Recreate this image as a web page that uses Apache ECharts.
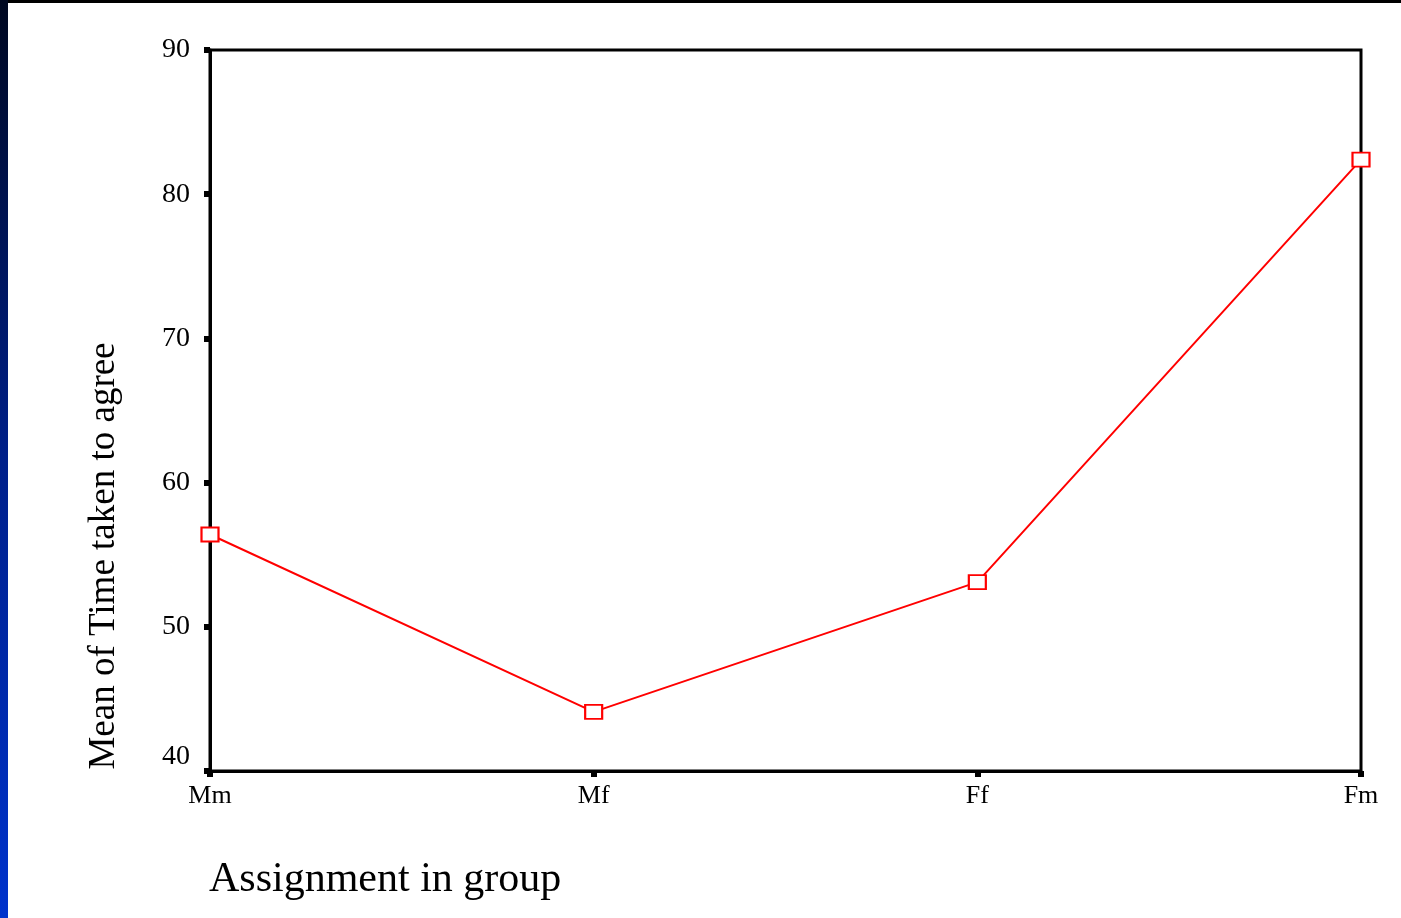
<!DOCTYPE html>
<html><head><meta charset="utf-8">
<script src="https://cdn.jsdelivr.net/npm/echarts@6/dist/echarts.min.js"></script>
<style>html,body{margin:0;padding:0;background:#fff}#c{width:1401px;height:918px}</style>
</head><body><div id="c"></div>
<script>
const categories = ['Mm', 'Mf', 'Ff', 'Fm'];
const meanTime = [56.4, 44.1, 53.1, 82.4];
const yTicks = [40, 50, 60, 70, 80, 90];

const chart = echarts.init(document.getElementById('c'));
const serif = '"Liberation Serif", "DejaVu Serif", serif';
chart.setOption({
  backgroundColor: '#ffffff',
  animation: false,
  graphic: [
    { type: 'rect', left: 0, top: 0, shape: { width: 1401, height: 3 }, style: { fill: '#000' }, z: 10 },
    { type: 'rect', left: 0, top: 0, shape: { width: 8, height: 918 },
      style: { fill: new echarts.graphic.LinearGradient(0, 0, 0, 1, [
        { offset: 0, color: '#000820' }, { offset: 0.5, color: '#00208a' }, { offset: 1, color: '#0033cc' }]) }, z: 10 },
    { type: 'text', x: 104, y: 556, rotation: Math.PI / 2,
      style: { text: 'Mean of Time taken to agree', font: '37px ' + serif, fill: '#000', align: 'center', verticalAlign: 'middle' } },
    { type: 'text', x: 209, y: 880,
      style: { text: 'Assignment in group', font: '42px ' + serif, fill: '#000', align: 'left', verticalAlign: 'middle' } }
  ],
  grid: { left: 210, right: 40, top: 50, bottom: 147, show: true, borderColor: '#000', borderWidth: 3, backgroundColor: 'transparent' },
  xAxis: {
    type: 'category', data: categories, boundaryGap: false,
    axisLine: { lineStyle: { color: '#000', width: 3 } },
    axisTick: { show: true, length: 6, lineStyle: { color: '#000', width: 6 } },
    axisLabel: { color: '#000', fontFamily: serif, fontSize: 26, margin: 12 },
    splitLine: { show: false }
  },
  yAxis: {
    type: 'value', min: 40, max: 90, interval: 10,
    axisLine: { show: true, lineStyle: { color: '#000', width: 3 } },
    axisTick: { show: true, length: 6, lineStyle: { color: '#000', width: 6 } },
    axisLabel: { color: '#000', fontFamily: serif, fontSize: 28, margin: 20,
      formatter: v => yTicks.includes(v) ? (v === 40 ? '{low|' + v + '}' : String(v)) : '',
      rich: { low: { fontFamily: serif, fontSize: 28, color: '#000', padding: [0, 0, 28, 0] } } },
    splitLine: { show: false }
  },
  series: [{
    type: 'line', data: meanTime,
    symbol: 'rect', symbolSize: [17, 14], showSymbol: true,
    itemStyle: { color: '#fff', borderColor: '#ff0000', borderWidth: 2 },
    lineStyle: { color: '#ff0000', width: 2 }
  }]
});
</script></body></html>
